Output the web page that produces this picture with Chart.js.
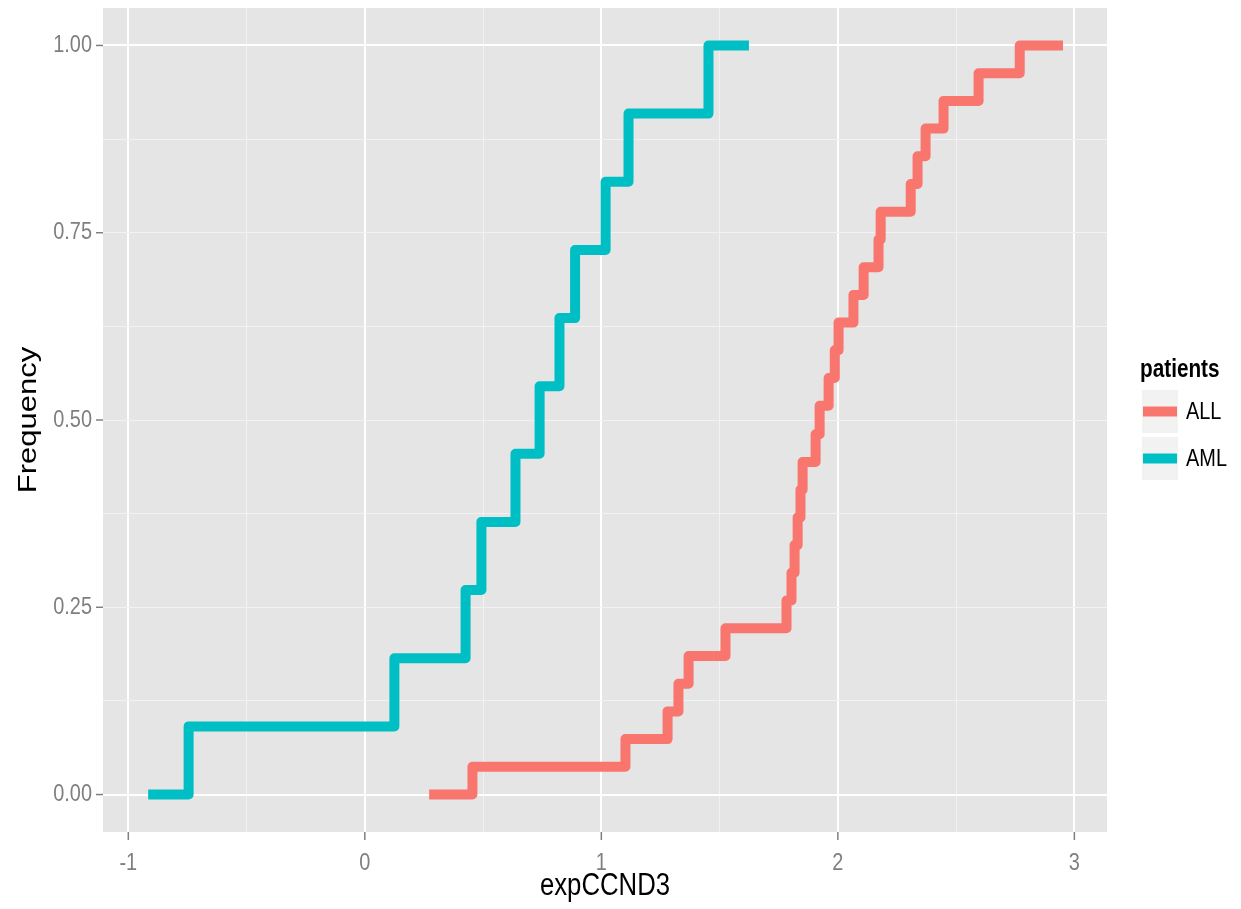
<!DOCTYPE html>
<html>
<head>
<meta charset="utf-8">
<script src="https://cdn.jsdelivr.net/npm/chart.js@4.4.0/dist/chart.umd.min.js"></script>
<style>
  body { margin: 0; background: #ffffff; }
  canvas { display: block; }
</style>
</head>
<body>
<canvas id="ecdfChart" width="1241" height="909"></canvas>
<script>
// step points of the empirical CDF for each patient group
const allX = [0.272, 0.455, 1.102, 1.280, 1.326, 1.369, 1.525, 1.783, 1.804, 1.817, 1.830, 1.842,
  1.851, 1.906, 1.923, 1.961, 1.987, 2.003, 2.066, 2.109, 2.172, 2.181, 2.308, 2.337, 2.371,
  2.447, 2.595, 2.769, 2.952];
const allY = [0, 0.037, 0.074, 0.111, 0.148, 0.185, 0.222, 0.259, 0.296, 0.333, 0.370, 0.407,
  0.444, 0.481, 0.519, 0.556, 0.593, 0.630, 0.667, 0.704, 0.741, 0.778, 0.815, 0.852, 0.889,
  0.926, 0.963, 1, 1];
const amlX = [-0.916, -0.745, 0.125, 0.426, 0.493, 0.637, 0.739, 0.823, 0.889, 1.018, 1.115, 1.453, 1.624];
const amlY = [0, 0.091, 0.182, 0.273, 0.364, 0.455, 0.545, 0.636, 0.727, 0.818, 0.909, 1, 1];

const groups = ['ALL', 'AML'];
const groupColors = ['#f8766d', '#00bfc4'];
const xTicks = [-1, 0, 1, 2, 3];
const xTickLabels = ['-1', '0', '1', '2', '3'];
const yTicks = [0, 0.25, 0.5, 0.75, 1];
const yTickLabels = ['0.00', '0.25', '0.50', '0.75', '1.00'];

const FONT = '"Liberation Sans", Arial, sans-serif';
const SX = 0.83; // text comes out narrower than it is tall

function toPoints(xs, ys) {
  return xs.map((x, i) => ({ x: x, y: ys[i] }));
}

function drawText(ctx, text, x, y, font, color, align, baseline, angle) {
  ctx.save();
  ctx.translate(x, y);
  ctx.scale(SX, 1);
  if (angle) ctx.rotate(angle);
  ctx.font = font;
  ctx.fillStyle = color;
  ctx.textAlign = align;
  ctx.textBaseline = baseline;
  ctx.fillText(text, 0, 0);
  ctx.restore();
}

function isMajor(v) {
  return Math.abs(v * 4 - Math.round(v * 4)) < 1e-6 && Math.abs(v - Math.round(v)) < 1e-6;
}

const ggPlugin = {
  id: 'ggPanel',
  beforeDraw(chart) {
    const { ctx, chartArea: a } = chart;
    ctx.save();
    ctx.fillStyle = '#e5e5e5';
    ctx.fillRect(a.left, a.top, a.right - a.left, a.bottom - a.top);
    ctx.restore();
  },
  afterDraw(chart) {
    const { ctx, chartArea: a, scales } = chart;
    const xs = scales.x, ys = scales.y;
    ctx.save();
    ctx.strokeStyle = '#7f7f7f';
    ctx.lineWidth = 1.5;
    // tick marks
    xTicks.forEach(v => {
      const px = xs.getPixelForValue(v);
      ctx.beginPath();
      ctx.moveTo(px, a.bottom);
      ctx.lineTo(px, a.bottom + 8);
      ctx.stroke();
    });
    yTicks.forEach(v => {
      const py = ys.getPixelForValue(v);
      ctx.beginPath();
      ctx.moveTo(a.left - 7, py);
      ctx.lineTo(a.left, py);
      ctx.stroke();
    });
    ctx.restore();

    // tick labels
    xTicks.forEach((v, i) => {
      drawText(ctx, xTickLabels[i], xs.getPixelForValue(v), a.bottom + 31, '24px ' + FONT, '#7f7f7f', 'center', 'middle');
    });
    yTicks.forEach((v, i) => {
      drawText(ctx, yTickLabels[i], a.left - 11, ys.getPixelForValue(v), '24px ' + FONT, '#7f7f7f', 'right', 'middle');
    });

    // axis titles
    drawText(ctx, 'expCCND3', (a.left + a.right) / 2, 886, '31px ' + FONT, '#000000', 'center', 'middle');
    drawText(ctx, 'Frequency', 29, (a.top + a.bottom) / 2, '31px ' + FONT, '#000000', 'center', 'middle', -Math.PI / 2);

    // legend
    drawText(ctx, 'patients', 1140, 377, 'bold 25px ' + FONT, '#000000', 'left', 'alphabetic');
    groups.forEach((g, i) => {
      const top = 390 + i * 47;
      ctx.save();
      ctx.fillStyle = '#f2f2f2';
      ctx.fillRect(1142, top, 36, 43);
      ctx.strokeStyle = groupColors[i];
      ctx.lineWidth = 10;
      ctx.beginPath();
      ctx.moveTo(1143, top + 21.5);
      ctx.lineTo(1177, top + 21.5);
      ctx.stroke();
      ctx.restore();
      drawText(ctx, g, 1186, top + 22, '24px ' + FONT, '#000000', 'left', 'middle');
    });
  }
};

const gridColor = c => isMajor(c.tick.value) ? '#ffffff' : '#f2f2f2';
const gridWidth = c => isMajor(c.tick.value) ? 2 : 1;

new Chart(document.getElementById('ecdfChart').getContext('2d'), {
  type: 'line',
  data: {
    datasets: [
      {
        label: groups[0],
        data: toPoints(allX, allY),
        borderColor: groupColors[0],
        borderWidth: 10,
        stepped: 'before',
        pointRadius: 0,
        borderJoinStyle: 'round',
        fill: false
      },
      {
        label: groups[1],
        data: toPoints(amlX, amlY),
        borderColor: groupColors[1],
        borderWidth: 10,
        stepped: 'before',
        pointRadius: 0,
        borderJoinStyle: 'round',
        fill: false
      }
    ]
  },
  options: {
    responsive: false,
    animation: false,
    events: [],
    layout: { padding: { left: 103, right: 134, top: 8, bottom: 77 } },
    plugins: {
      legend: { display: false },
      tooltip: { enabled: false }
    },
    scales: {
      x: {
        type: 'linear',
        min: -1.107,
        max: 3.138,
        ticks: { display: false, stepSize: 0.5, includeBounds: false },
        grid: { color: gridColor, lineWidth: gridWidth, drawTicks: false },
        border: { display: false }
      },
      y: {
        type: 'linear',
        min: -0.05,
        max: 1.05,
        ticks: { display: false, stepSize: 0.125, includeBounds: false },
        grid: { color: gridColor, lineWidth: gridWidth, drawTicks: false },
        border: { display: false }
      }
    }
  },
  plugins: [ggPlugin]
});
</script>
</body>
</html>
